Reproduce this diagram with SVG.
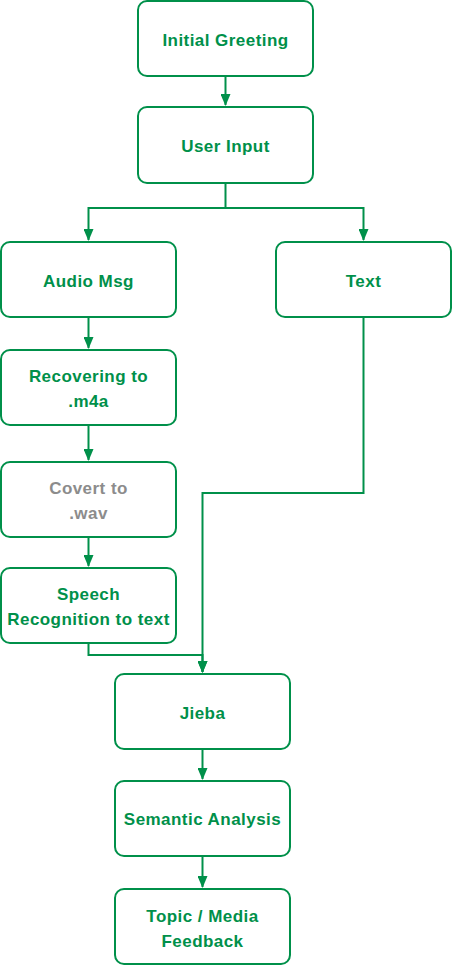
<svg xmlns="http://www.w3.org/2000/svg" width="452" height="967" viewBox="0 0 452 967">
<style>
.n rect{fill:#fff;stroke:#00904A;stroke-width:2}
.n text{font-family:"Liberation Sans",Arial,sans-serif;font-size:17px;font-weight:bold;letter-spacing:0.45px;fill:#00904A;text-anchor:middle}
.n text.g{fill:#8c8c8c}
.c path{fill:none;stroke:#00904A;stroke-width:2}
</style>
<defs>
<marker id="a" viewBox="0 0 12 10" refX="11" refY="5" markerWidth="12" markerHeight="10" markerUnits="userSpaceOnUse" orient="auto">
<path d="M0,0 L12,5 L0,10 z" fill="#00904A"/>
</marker>
</defs>
<g class="c">
<path d="M225.5,77 V105" marker-end="url(#a)"/>
<path d="M225.5,183 V208 H88.5 V240" marker-end="url(#a)"/>
<path d="M225.5,208 H363.5 V240" marker-end="url(#a)"/>
<path d="M88.5,318 V348" marker-end="url(#a)"/>
<path d="M88.5,426 V460" marker-end="url(#a)"/>
<path d="M88.5,538 V566" marker-end="url(#a)"/>
<path d="M88.5,644 V655 H202.5 V672" marker-end="url(#a)"/>
<path d="M363.5,318 V493 H202.5 V672" marker-end="url(#a)"/>
<path d="M202.5,750 V779" marker-end="url(#a)"/>
<path d="M202.5,857 V887" marker-end="url(#a)"/>
</g>
<g id="n1" class="n"><rect x="138" y="1" width="175" height="75" rx="9"/><text x="225.5" y="46">Initial Greeting</text></g>
<g id="n2" class="n"><rect x="138" y="107" width="175" height="76" rx="9"/><text x="225.5" y="152">User Input</text></g>
<g id="n3" class="n"><rect x="1" y="242" width="175" height="75" rx="9"/><text x="88.5" y="287">Audio Msg</text></g>
<g id="n4" class="n"><rect x="276" y="242" width="175" height="75" rx="9"/><text x="363.5" y="287">Text</text></g>
<g id="n5" class="n"><rect x="1" y="350" width="175" height="75" rx="9"/><text x="88.5" y="382">Recovering to</text><text x="88.5" y="407">.m4a</text></g>
<g id="n6" class="n"><rect x="1" y="462" width="175" height="75" rx="9"/><text class="g" x="88.5" y="494">Covert to</text><text class="g" x="88.5" y="519">.wav</text></g>
<g id="n7" class="n"><rect x="1" y="568" width="175" height="75" rx="9"/><text x="88.5" y="600">Speech</text><text x="88.5" y="625">Recognition to text</text></g>
<g id="n8" class="n"><rect x="115" y="674" width="175" height="75" rx="9"/><text x="202.5" y="719">Jieba</text></g>
<g id="n9" class="n"><rect x="115" y="781" width="175" height="75" rx="9"/><text x="202.5" y="825">Semantic Analysis</text></g>
<g id="n10" class="n"><rect x="115" y="889" width="175" height="75" rx="9"/><text x="202.5" y="922">Topic / Media</text><text x="202.5" y="947">Feedback</text></g>
</svg>
